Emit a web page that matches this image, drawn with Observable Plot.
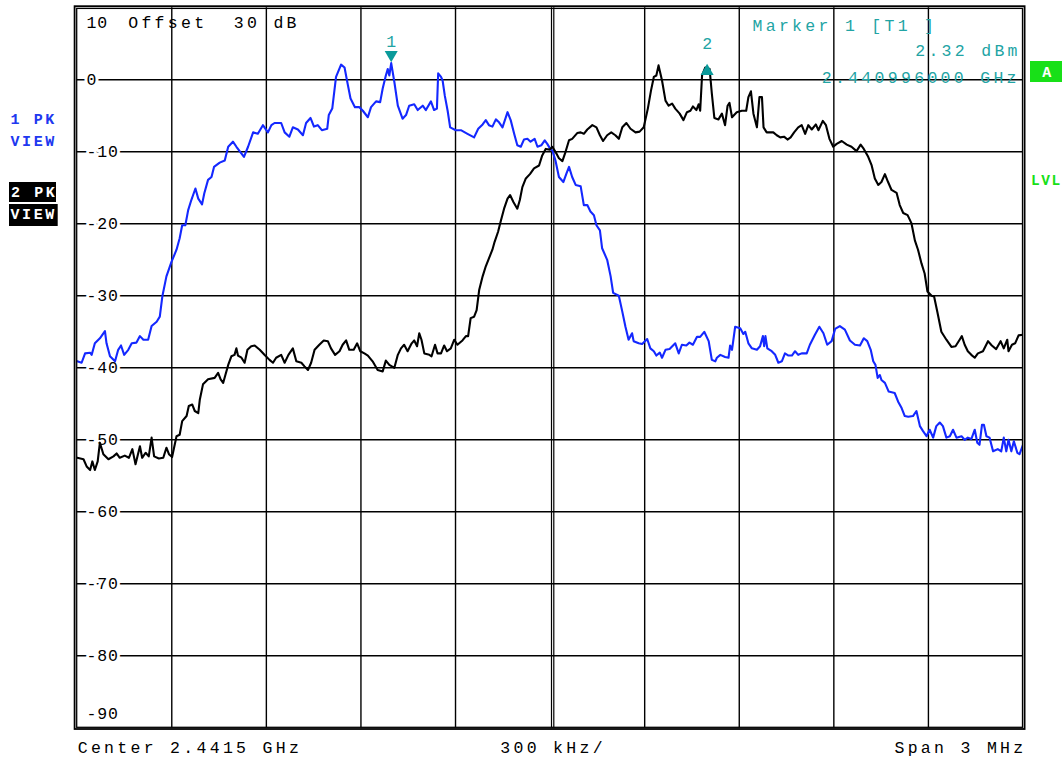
<!DOCTYPE html>
<html><head><meta charset="utf-8">
<script src="https://cdn.jsdelivr.net/npm/d3@7"></script>
<script src="https://cdn.jsdelivr.net/npm/@observablehq/plot@0.6"></script>
<style>
html,body{margin:0;padding:0;background:#fff;}
#chart{width:1062px;height:760px;}
svg text{white-space:pre;}
</style></head><body><div id="chart"></div>
<script>
// Trace 1 (blue) : [offset from 2.440 GHz in kHz, level in dBm]
const blueTrace = [[0,-39.1],[14,-39.3],[25,-38.0],[41,-37.9],[46,-38.2],[56,-36.6],[72,-35.9],[88,-34.9],[93,-36.6],[104,-38.4],[120,-39.1],[130,-37.5],[139,-36.9],[149,-38.2],[162,-37.5],[173,-36.6],[188,-36.5],[199,-35.6],[210,-36.1],[225,-36.1],[236,-34.2],[252,-33.6],[262,-32.9],[270,-30.1],[283,-27.3],[299,-25.3],[315,-23.6],[325,-22.0],[333,-20.2],[343,-20.2],[352,-18.1],[362,-16.7],[375,-15.1],[384,-16.5],[396,-17.3],[403,-15.8],[415,-13.9],[426,-13.5],[434,-12.1],[452,-11.5],[468,-11.2],[479,-9.3],[494,-8.6],[505,-9.3],[529,-10.7],[542,-9.3],[558,-7.3],[573,-7.5],[589,-6.3],[605,-7.3],[616,-6.3],[626,-6.0],[647,-6.0],[658,-7.3],[673,-7.9],[684,-6.6],[700,-6.9],[716,-7.7],[726,-6.0],[740,-5.3],[751,-6.5],[763,-6.3],[776,-7.0],[793,-6.8],[798,-4.9],[809,-4.0],[821,0.4],[837,2.1],[848,1.7],[858,-0.6],[867,-2.6],[881,-3.8],[895,-3.8],[906,-4.3],[922,-5.2],[932,-3.8],[948,-3.0],[961,-3.1],[969,-1.2],[979,0.6],[985,1.5],[990,0.6],[996,2.32],[1006,-0.3],[1017,-3.6],[1032,-5.4],[1043,-4.9],[1053,-3.6],[1069,-3.4],[1080,-4.2],[1096,-3.6],[1106,-4.2],[1122,-3.0],[1132,-4.2],[1141,-4.0],[1145,0.9],[1154,0.4],[1159,-0.1],[1166,-2.2],[1175,-4.3],[1183,-6.6],[1201,-7.0],[1217,-7.0],[1238,-7.5],[1259,-8.0],[1272,-6.8],[1286,-6.2],[1296,-5.6],[1306,-6.3],[1317,-6.5],[1328,-5.5],[1338,-5.9],[1349,-6.6],[1365,-4.5],[1375,-5.6],[1386,-7.5],[1396,-9.1],[1407,-9.3],[1417,-8.3],[1428,-8.2],[1438,-8.6],[1451,-8.2],[1460,-9.3],[1472,-9.1],[1483,-8.4],[1491,-8.9],[1502,-9.7],[1507,-9.8],[1517,-11.2],[1528,-13.5],[1542,-14.2],[1552,-13.0],[1560,-12.1],[1570,-13.5],[1581,-14.6],[1597,-14.8],[1607,-17.4],[1618,-17.4],[1628,-18.3],[1639,-18.8],[1647,-20.2],[1658,-20.9],[1665,-23.4],[1681,-25.0],[1692,-27.3],[1700,-29.6],[1718,-30.0],[1729,-32.2],[1739,-34.3],[1749,-36.1],[1760,-35.2],[1765,-36.3],[1781,-36.6],[1792,-36.7],[1808,-36.0],[1818,-37.3],[1829,-37.7],[1837,-38.3],[1848,-37.9],[1855,-38.6],[1866,-37.5],[1879,-37.4],[1897,-36.6],[1908,-38.0],[1918,-36.8],[1932,-36.9],[1942,-36.5],[1953,-36.8],[1966,-35.7],[1976,-35.7],[1989,-35.0],[2003,-36.3],[2013,-38.9],[2024,-39.1],[2029,-38.6],[2040,-38.2],[2055,-38.5],[2066,-38.6],[2071,-36.9],[2077,-37.5],[2087,-34.3],[2103,-34.5],[2113,-35.3],[2119,-35.0],[2129,-36.6],[2140,-37.3],[2156,-37.5],[2166,-37.0],[2175,-35.6],[2179,-37.0],[2183,-35.6],[2189,-37.3],[2203,-37.7],[2214,-38.2],[2224,-39.3],[2235,-39.1],[2245,-38.0],[2256,-38.3],[2267,-38.3],[2277,-37.7],[2287,-38.2],[2298,-38.0],[2314,-38.0],[2324,-36.8],[2340,-35.4],[2354,-34.3],[2367,-35.2],[2379,-36.8],[2393,-36.3],[2404,-34.6],[2419,-34.2],[2435,-34.7],[2451,-36.2],[2467,-36.8],[2483,-36.9],[2495,-35.9],[2506,-36.3],[2517,-37.5],[2525,-39.1],[2532,-39.6],[2539,-41.4],[2546,-41.0],[2551,-41.7],[2562,-42.1],[2574,-43.3],[2593,-43.5],[2604,-44.7],[2615,-45.6],[2625,-46.7],[2636,-46.8],[2651,-46.7],[2662,-46.0],[2673,-48.1],[2683,-48.8],[2694,-49.5],[2704,-48.6],[2715,-49.7],[2725,-48.1],[2736,-47.6],[2746,-48.1],[2757,-49.7],[2768,-49.5],[2778,-48.6],[2789,-49.7],[2805,-49.5],[2815,-50.0],[2825,-49.7],[2836,-49.9],[2847,-48.6],[2855,-50.4],[2862,-50.7],[2870,-47.9],[2876,-47.9],[2884,-49.5],[2894,-49.7],[2905,-51.6],[2920,-51.3],[2931,-51.6],[2939,-49.7],[2947,-51.6],[2954,-50.0],[2963,-51.6],[2971,-50.2],[2982,-51.8],[2989,-52.0],[3000,-50.7]];

// Trace 2 (black)
const blackTrace = [[0,-52.5],[20,-52.7],[30,-53.7],[41,-54.2],[48,-53.0],[56,-54.2],[65,-53.0],[72,-50.4],[83,-52.0],[99,-52.7],[115,-52.3],[125,-51.9],[135,-52.5],[151,-52.2],[164,-52.5],[175,-51.3],[185,-53.4],[199,-50.9],[206,-52.5],[217,-51.8],[227,-52.3],[236,-49.7],[244,-52.3],[259,-52.6],[273,-52.5],[283,-51.1],[291,-52.0],[301,-52.4],[315,-49.5],[325,-49.3],[333,-47.4],[347,-46.7],[354,-45.3],[365,-45.1],[373,-46.0],[384,-46.3],[389,-44.4],[399,-42.3],[415,-41.6],[436,-41.4],[447,-40.7],[455,-41.6],[463,-42.1],[470,-41.0],[479,-39.6],[489,-38.4],[499,-38.2],[505,-37.3],[510,-38.3],[521,-38.6],[531,-39.3],[540,-37.5],[552,-37.0],[563,-36.9],[579,-37.5],[594,-38.2],[610,-38.9],[621,-39.3],[631,-38.6],[647,-38.2],[658,-39.3],[670,-38.2],[684,-37.3],[695,-39.1],[711,-39.3],[721,-39.8],[732,-40.3],[742,-39.3],[753,-37.5],[768,-36.8],[782,-36.2],[795,-36.3],[805,-37.3],[818,-38.2],[832,-37.7],[842,-36.8],[853,-36.2],[863,-37.5],[877,-37.5],[888,-36.6],[898,-37.7],[911,-38.0],[922,-38.3],[937,-39.1],[953,-40.3],[969,-40.5],[979,-39.0],[990,-39.6],[1006,-40.0],[1017,-38.2],[1027,-37.3],[1037,-36.8],[1048,-37.7],[1061,-36.6],[1069,-36.2],[1078,-37.0],[1085,-35.2],[1092,-36.1],[1101,-38.0],[1117,-38.2],[1124,-38.4],[1135,-36.8],[1143,-38.0],[1154,-38.0],[1164,-36.9],[1173,-37.7],[1185,-37.3],[1196,-36.1],[1206,-36.8],[1222,-36.2],[1233,-35.6],[1240,-35.6],[1248,-33.1],[1259,-32.9],[1267,-32.0],[1275,-29.2],[1286,-27.3],[1296,-25.9],[1306,-24.8],[1317,-23.6],[1324,-22.5],[1335,-21.1],[1343,-19.7],[1354,-17.9],[1365,-16.5],[1373,-16.0],[1384,-17.0],[1396,-17.9],[1404,-16.7],[1412,-14.9],[1423,-13.7],[1436,-13.1],[1449,-12.3],[1465,-11.9],[1475,-10.5],[1486,-9.6],[1499,-9.7],[1507,-9.3],[1517,-10.0],[1528,-10.9],[1539,-11.3],[1549,-10.0],[1560,-8.4],[1570,-8.2],[1586,-7.4],[1597,-7.3],[1607,-7.5],[1618,-6.9],[1634,-6.3],[1647,-6.6],[1658,-7.7],[1668,-8.5],[1681,-7.7],[1694,-7.3],[1707,-7.7],[1718,-8.2],[1729,-6.6],[1742,-6.0],[1755,-6.8],[1771,-7.3],[1784,-7.2],[1797,-6.6],[1810,-4.0],[1820,-1.5],[1829,0.4],[1837,0.6],[1844,2.0],[1855,-0.1],[1866,-2.9],[1876,-3.6],[1887,-3.3],[1897,-4.0],[1911,-4.7],[1923,-5.6],[1934,-4.5],[1945,-4.3],[1953,-3.7],[1964,-4.2],[1971,-3.4],[1976,-4.3],[1982,0.6],[1992,1.7],[2006,1.5],[2013,-1.9],[2021,-5.3],[2034,-5.5],[2045,-4.7],[2055,-6.3],[2063,-3.6],[2069,-3.2],[2077,-5.2],[2092,-4.5],[2108,-4.3],[2122,-4.3],[2129,-2.4],[2137,-1.6],[2145,-4.7],[2156,-6.6],[2164,-2.4],[2172,-2.4],[2177,-6.6],[2187,-7.3],[2208,-7.3],[2219,-7.7],[2230,-8.0],[2242,-7.9],[2253,-8.3],[2263,-8.0],[2274,-7.3],[2287,-6.6],[2298,-6.3],[2309,-7.5],[2319,-6.3],[2330,-6.9],[2343,-6.2],[2351,-7.0],[2365,-5.7],[2375,-6.3],[2386,-8.2],[2398,-9.3],[2409,-8.9],[2425,-8.5],[2441,-9.0],[2456,-9.3],[2472,-9.9],[2485,-9.0],[2495,-9.6],[2509,-10.7],[2520,-11.9],[2530,-13.7],[2541,-14.6],[2551,-14.2],[2562,-13.1],[2572,-14.2],[2583,-15.3],[2599,-15.7],[2609,-17.4],[2620,-18.5],[2634,-18.8],[2646,-19.9],[2657,-22.3],[2667,-23.6],[2678,-25.5],[2688,-26.9],[2697,-29.4],[2710,-30.0],[2718,-30.1],[2729,-32.4],[2741,-35.0],[2757,-36.1],[2773,-37.1],[2786,-37.0],[2799,-36.1],[2806,-35.6],[2815,-36.8],[2825,-37.7],[2836,-38.2],[2847,-38.6],[2857,-38.0],[2873,-37.7],[2889,-36.3],[2901,-36.9],[2915,-37.4],[2929,-36.3],[2939,-37.3],[2950,-36.1],[2954,-37.7],[2965,-36.8],[2975,-36.6],[2986,-35.5],[3000,-35.4]];

const yTicks = [10, 0, -10, -20, -30, -40, -50, -60, -70, -80, -90];
const yTickLabels = ["10", "0", "-10", "-20", "-30", "-40", "-50", "-60", "-70", "-80", "-90"];
const xGridKHz = [300, 600, 900, 1200, 1800, 2100, 2400, 2700];
const centerKHz = 1500;
const xDomainKHz = [0, 3000];
const markerNames = ["1", "2"];
const markerKHz = [996, 1998];
const markerDbm = [2.32, 1.7];
const headerText = "Offset  30 dB";
const markerInfo = ["Marker 1 [T1 ]", "2.32 dBm", "2.440996000 GHz"];
const footer = ["Center 2.4415 GHz", "300 kHz/", "Span 3 MHz"];
const sideLabels = ["1 PK", "VIEW", "2 PK", "A", "LVL"];

const BLUE = "#1428ff", TEAL = "#22a4a4", TRI = "#0a9a9a", GREEN = "#18e018";
const FONT = "Liberation Mono";

const ticks = yTicks.map((v, i) => ({v, label: yTickLabels[i]}));
const midTicks = ticks.slice(1, -1);
const m1 = [{f: markerKHz[0], db: markerDbm[0], n: markerNames[0]}];
const m2 = [{f: markerKHz[1], db: markerDbm[1], n: markerNames[1]}];

const triDown = {draw(ctx, size) {
  const y = Math.sqrt(size / (3 * Math.sqrt(3))), s = Math.sqrt(3) * y;
  ctx.moveTo(0, 2 * y); ctx.lineTo(-s, -y); ctx.lineTo(s, -y); ctx.closePath();
}};
const triUp = {draw(ctx, size) {
  const y = Math.sqrt(size / (3 * Math.sqrt(3))), s = Math.sqrt(3) * y;
  ctx.moveTo(0, -2 * y); ctx.lineTo(-s, y); ctx.lineTo(s, y); ctx.closePath();
}};

const wide = {fontFamily: FONT, fontSize: 16.5, lineAnchor: "bottom"};
const bold = {fontFamily: FONT, fontSize: 15, fontWeight: "bold", lineAnchor: "bottom", textAnchor: "start", frameAnchor: "top-left"};
const T = d => d;

const plot = Plot.plot({
  width: 1062, height: 760,
  marginLeft: 76.7, marginRight: 39.5, marginTop: 7.3, marginBottom: 32.7,
  x: {domain: xDomainKHz, axis: null},
  y: {domain: [yTicks[yTicks.length - 1], yTicks[0]], axis: null},
  style: {fontFamily: FONT, fontSize: "16.5px", background: "#fff", overflow: "visible"},
  marks: [
    Plot.ruleY(midTicks, {y: "v", stroke: "#000", strokeWidth: 1.4}),
    Plot.ruleX(xGridKHz, {stroke: "#000", strokeWidth: 1.4}),
    Plot.ruleX([centerKHz], {stroke: "#000", strokeWidth: 1.2, dx: 1.4}),
    Plot.ruleX([centerKHz], {stroke: "#000", strokeWidth: 1.2, dx: 3.7}),
    Plot.text(midTicks, {y: "v", text: "label", frameAnchor: "left", dx: 9.3, textAnchor: "start",
      fill: "#000", stroke: "#fff", strokeWidth: 6, fontFamily: FONT, fontSize: 16.5}),
    Plot.text([yTickLabels[0]], {text: T, frameAnchor: "top-left", dx: 9.3, dy: 19.7, textAnchor: "start",
      lineAnchor: "bottom", fill: "#000", fontFamily: FONT, fontSize: 16.5}),
    Plot.text([yTickLabels[yTickLabels.length - 1]], {text: T, frameAnchor: "bottom-left", dx: 9.3, dy: -9, textAnchor: "start",
      lineAnchor: "bottom", fill: "#000", fontFamily: FONT, fontSize: 16.5}),
    Plot.line(blueTrace, {x: d => d[0], y: d => d[1], stroke: BLUE, strokeWidth: 2.1, clip: true}),
    Plot.line(blackTrace, {x: d => d[0], y: d => d[1], stroke: "#000", strokeWidth: 2.1, clip: true}),
    Plot.dot(m1, {x: "f", y: "db", symbol: triDown, r: 4.85, fill: TRI, stroke: "none", dy: -8.4}),
    Plot.dot(m2, {x: "f", y: "db", symbol: triUp, r: 4.85, fill: TRI, stroke: "none", dy: 3.7}),
    Plot.text(m1, {x: "f", y: "db", text: "n", dy: -15.6, lineAnchor: "bottom", fill: TEAL, fontFamily: FONT, fontSize: 16.5}),
    Plot.text(m2, {x: "f", y: "db", text: "n", dy: -18.6, lineAnchor: "bottom", fill: TEAL, fontFamily: FONT, fontSize: 16.5}),
    Plot.text([headerText], {...wide, text: T, frameAnchor: "top-left", dx: 51, dy: 19.7, textAnchor: "start", fill: "#000"}),
    Plot.text([markerInfo[0]], {...wide, text: T, frameAnchor: "top-left", dx: 675.3, dy: 22.7, textAnchor: "start", fill: TEAL}),
    Plot.text([markerInfo[1]], {...wide, text: T, frameAnchor: "top-right", dx: -2.2, dy: 47.7, textAnchor: "end", fill: TEAL}),
    Plot.text([markerInfo[2]], {...wide, text: T, frameAnchor: "top-right", dx: -3.2, dy: 74.7, textAnchor: "end", fill: TEAL}),
    Plot.text([footer[0]], {...wide, text: T, frameAnchor: "bottom-left", dx: 0.5, dy: 24.7, textAnchor: "start", fill: "#000"}),
    Plot.text([footer[1]], {...wide, text: T, frameAnchor: "bottom", dx: 3.0, dy: 24.7, textAnchor: "middle", fill: "#000"}),
    Plot.text([footer[2]], {...wide, text: T, frameAnchor: "bottom-right", dx: 3.5, dy: 24.7, textAnchor: "end", fill: "#000"}),
    Plot.text([sideLabels[0]], {...bold, text: T, dx: -66.7, dy: 115.7, fill: "#2038f0"}),
    Plot.text([sideLabels[1]], {...bold, text: T, dx: -66.7, dy: 137.7, fill: "#2038f0"}),
    Plot.text([sideLabels[2]], {...bold, text: T, dx: -66.2, dy: 189.4, fill: "#fff"}),
    Plot.text([sideLabels[1]], {...bold, text: T, dx: -66.7, dy: 211.2, fill: "#fff"}),
    Plot.text([sideLabels[3]], {...bold, text: T, frameAnchor: "top-right", dx: 19.2, dy: 68.7, fill: "#fff"}),
    Plot.text([sideLabels[4]], {...bold, text: T, frameAnchor: "top-right", dx: 8.0, dy: 176.7, fill: GREEN, fontSize: 14.5})
  ]
});

const svg = d3.select(plot);
const wideSet = new Set([headerText, ...markerInfo, ...footer]);
const boldSet = new Set(sideLabels);
const tickSet = new Set(yTickLabels);
svg.selectAll("text").each(function() {
  const t = this.textContent;
  if (t === "LVL") this.style.letterSpacing = "1.6px";
  else if (wideSet.has(t)) this.style.letterSpacing = "3.3px";
  else if (boldSet.has(t)) this.style.letterSpacing = "2.6px";
  else if (tickSet.has(t)) this.style.letterSpacing = "0.8px";
});

// label boxes (drawn underneath)
const boxes = [
  {x: 9, y: 182, w: 47, h: 20, fill: "#000"},
  {x: 9, y: 204, w: 48.7, h: 22, fill: "#000"},
  {x: 1030, y: 61, w: 32, h: 21, fill: GREEN}
];
const bg = svg.insert("g", ":first-child");
bg.selectAll("rect").data(boxes).join("rect")
  .attr("x", d => d.x).attr("y", d => d.y).attr("width", d => d.w).attr("height", d => d.h).attr("fill", d => d.fill);
// double frame
svg.append("rect").attr("x", 76.7).attr("y", 8.4).attr("width", 1022.5 - 76.7).attr("height", 727.3 - 8.4)
  .attr("fill", "none").attr("stroke", "#000").attr("stroke-width", 1.3);
svg.append("rect").attr("x", 74.6).attr("y", 6.2).attr("width", 1024.6 - 74.6).attr("height", 729.0 - 6.2)
  .attr("fill", "none").attr("stroke", "#000").attr("stroke-width", 1.8);

document.getElementById("chart").appendChild(plot);
</script></body></html>
